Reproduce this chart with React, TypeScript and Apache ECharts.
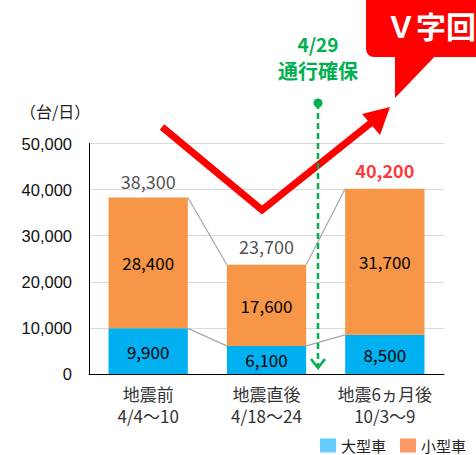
import React, { useEffect, useRef } from "react";
import * as echarts from "echarts";

const categories = ["地震前\n4/4～10", "地震直後\n4/18～24", "地震6ヵ月後\n10/3～9"];
const largeVehicles = [9900, 6100, 8500];
const smallVehicles = [28400, 17600, 31700];
const totals = [38300, 23700, 40200];
const yTicks = [0, 10000, 20000, 30000, 40000, 50000];

const BLUE = "#00B0F0";
const ORANGE = "#F79646";
const RED = "#FF0000";
const GREEN = "#00B050";
const JP = "'Noto Sans CJK JP', sans-serif";

export default function App() {
  const ref = useRef<HTMLDivElement>(null);
  useEffect(() => {
    if (!ref.current) return;
    document.body.style.margin = "0";
    document.body.style.overflow = "hidden";
    const chart = echarts.init(ref.current, null, { renderer: "svg" });
    const connectorData: number[][] = [];
    for (let i = 0; i < categories.length - 1; i++) {
      connectorData.push([i, largeVehicles[i], largeVehicles[i + 1]]);
      connectorData.push([i, totals[i], totals[i + 1]]);
    }
    const fmt = (v: number) => v.toLocaleString("en-US");
    chart.setOption({
      animation: false,
      grid: { left: 89, right: 32, top: 143.5, bottom: 81, containLabel: false },
      legend: {
        top: 438,
        right: 10,
        padding: 0,
        icon: "rect",
        itemWidth: 16,
        itemHeight: 14,
        itemGap: 14,
        textStyle: { fontFamily: JP, fontSize: 15, lineHeight: 15, color: "#222" },
        data: [
          { name: "大型車", itemStyle: { color: "#66CCFF" } },
          { name: "小型車", itemStyle: { color: "#FF9966" } },
        ],
      },
      xAxis: {
        type: "category",
        data: categories,
        axisLine: { lineStyle: { color: "#000", width: 1 } },
        axisTick: { show: false },
        axisLabel: {
          interval: 0,
          hideOverlap: false,
          fontFamily: JP,
          fontSize: 17,
          color: "#333",
          lineHeight: 22,
          margin: 8,
        },
      },
      yAxis: {
        type: "value",
        min: yTicks[0],
        max: yTicks[yTicks.length - 1],
        interval: 10000,
        axisLine: { show: true, lineStyle: { color: "#000", width: 1 } },
        axisTick: { show: false },
        splitLine: { lineStyle: { color: "#D9D9D9", width: 1 } },
        axisLabel: {
          fontFamily: "'Liberation Sans', Arial, sans-serif",
          fontSize: 16.5,
          color: "#111",
          margin: 17,
          formatter: (v: number) => fmt(v),
        },
      },
      series: [
        {
          name: "大型車",
          type: "bar",
          stack: "all",
          barWidth: "67%",
          data: largeVehicles,
          itemStyle: { color: BLUE },
          label: {
            show: true,
            position: "inside",
            fontFamily: JP,
            fontSize: 17,
            color: "#000",
            formatter: (p: any) => fmt(p.value),
          },
        },
        {
          name: "小型車",
          type: "bar",
          stack: "all",
          barWidth: "67%",
          data: smallVehicles,
          itemStyle: { color: ORANGE },
          label: {
            show: true,
            position: "inside",
            fontFamily: JP,
            fontSize: 17,
            color: "#000",
            formatter: (p: any) => fmt(p.value),
          },
        },
        {
          name: "connectors",
          type: "custom",
          silent: true,
          z: 1,
          encode: { x: 0, y: 1 },
          data: connectorData,
          renderItem: (params: any, api: any) => {
            const i = api.value(0);
            const p1 = api.coord([i, api.value(1)]);
            const p2 = api.coord([i + 1, api.value(2)]);
            const half = (api.size([1, 0])[0] * 0.67) / 2;
            return {
              type: "line",
              shape: { x1: p1[0] + half, y1: p1[1], x2: p2[0] - half, y2: p2[1] },
              style: { stroke: "#A6A6A6", lineWidth: 1.2 },
            };
          },
        },
        {
          name: "totals",
          type: "scatter",
          symbolSize: 1,
          silent: true,
          itemStyle: { color: "rgba(0,0,0,0)" },
          data: totals.map((v, i) => ({
            value: v,
            label:
              i === totals.length - 1
                ? { color: RED, fontWeight: "bold", fontSize: 18, distance: 9 }
                : i === 1
                ? { distance: 9 }
                : { distance: 7 },
          })),
          label: {
            show: true,
            position: "top",
            fontFamily: JP,
            fontSize: 18,
            color: "#222",
            formatter: (p: any) => fmt(p.value),
          },
        },
      ],
      graphic: [
        {
          type: "text",
          left: 20,
          top: 103,
          style: { text: "（台/日）", font: `16px ${JP}`, fill: "#222" },
        },
        // V-shaped red arrow
        {
          type: "polyline",
          z: 100,
          shape: { points: [[162, 127], [262, 210], [372, 122]] },
          style: { stroke: RED, lineWidth: 7, fill: null, lineJoin: "miter" },
        },
        {
          type: "polygon",
          z: 100,
          shape: { points: [[390, 107], [362, 114], [380, 135]] },
          style: { fill: RED },
        },
        // Callout box
        {
          type: "rect",
          z: 100,
          shape: { x: 366, y: -20, width: 130, height: 77, r: 8 },
          style: { fill: RED },
        },
        {
          type: "polygon",
          z: 100,
          shape: { points: [[395, 50], [441, 50], [395, 98]] },
          style: { fill: RED },
        },
        {
          type: "text",
          z: 101,
          x: 386,
          y: 25,
          style: {
            text: "Ｖ字回復",
            font: `bold 30px ${JP}`,
            fill: "#fff",
            verticalAlign: "middle",
            align: "left",
          },
        },
        // Green marker
        {
          type: "text",
          z: 100,
          x: 318,
          y: 43,
          style: {
            text: "4/29",
            font: `bold 19px ${JP}`,
            fill: GREEN,
            align: "center",
            verticalAlign: "middle",
          },
        },
        {
          type: "text",
          z: 100,
          x: 318,
          y: 70,
          style: {
            text: "通行確保",
            font: `bold 20px ${JP}`,
            fill: GREEN,
            align: "center",
            verticalAlign: "middle",
          },
        },
        {
          type: "circle",
          z: 100,
          shape: { cx: 318, cy: 103, r: 4.5 },
          style: { fill: GREEN },
        },
        {
          type: "line",
          z: 100,
          shape: { x1: 318, y1: 103, x2: 318, y2: 367 },
          style: { stroke: GREEN, lineWidth: 2.5, lineDash: [6, 4] },
        },
        {
          type: "polyline",
          z: 100,
          shape: { points: [[311, 359], [318, 368], [325, 359]] },
          style: { stroke: GREEN, lineWidth: 2.5, fill: null },
        },
      ],
    });
    return () => chart.dispose();
  }, []);
  return (
    <div
      ref={ref}
      style={{ position: "absolute", left: 0, top: 0, width: 476, height: 455 }}
    />
  );
}
